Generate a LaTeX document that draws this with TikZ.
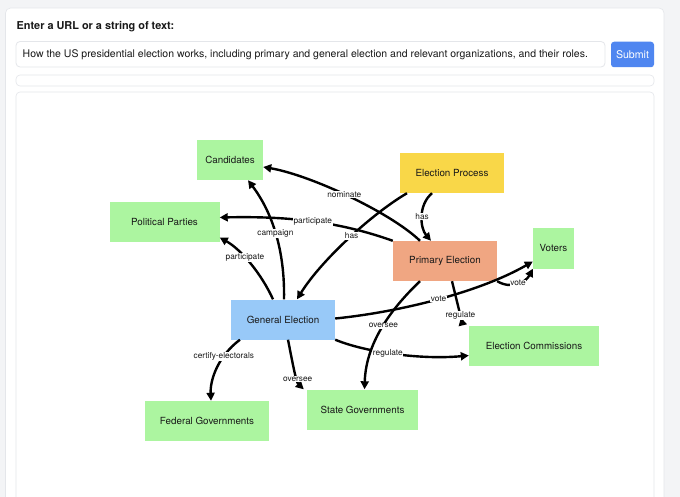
\documentclass[tikz,border=0pt]{standalone}
\usepackage{fontspec}
\setmainfont{TeX Gyre Heros}
\usepackage{tikz}
\usetikzlibrary{arrows.meta,positioning}

\definecolor{pagebg}{RGB}{243,244,246}
\definecolor{cardline}{RGB}{228,230,234}
\definecolor{submitblue}{RGB}{79,134,240}
\definecolor{conceptgreen}{RGB}{172,245,160}
\definecolor{processyellow}{RGB}{249,215,72}
\definecolor{primarysalmon}{RGB}{240,166,130}
\definecolor{generalblue}{RGB}{152,201,248}
\definecolor{inktext}{RGB}{25,25,25}

\tikzset{
  concept/.style={draw=none, fill=conceptgreen, minimum height=40pt, inner sep=0pt,
                  text=inktext, font=\fontsize{9.8}{11}\selectfont},
  rel/.style={line width=2.4pt, -{Triangle[length=8pt,width=8pt]}},
  lbl/.style={fill=white, inner sep=0.6pt, text=inktext, font=\fontsize{8.3}{9}\selectfont}
}

\begin{document}
\begin{tikzpicture}[x=1pt, y=-1pt]
\useasboundingbox (0,0) rectangle (680,497);
\fill[pagebg] (0,0) rectangle (680,497);

% page cards
\filldraw[fill=white, draw=cardline, line width=0.6pt, rounded corners=5pt] (5.5,8) rectangle (664,520);
\node[anchor=west, inner sep=0pt, text=inktext, font=\fontsize{10.9}{12}\selectfont\bfseries] (prompt) at (16.5,27) {Enter a URL or a string of text:};
\filldraw[fill=white, draw=cardline, line width=0.8pt, rounded corners=4pt] (16,41.5) rectangle (605,67);
\node[anchor=west, inner sep=0pt, text=inktext, font=\fontsize{10.5}{12}\selectfont] (query) at (22.5,55) {How the US presidential election works, including primary and general election and relevant organizations, and their roles.};
\node[fill=submitblue, rounded corners=3pt, minimum width=43pt, minimum height=25.5pt, inner sep=0pt,
      text=white, font=\fontsize{10.6}{12}\selectfont] (submit) at (632.5,54.5) {Submit};
\filldraw[fill=white, draw=cardline, line width=0.6pt, rounded corners=4pt] (16,75) rectangle (654,86);
\filldraw[fill=white, draw=cardline, line width=0.6pt, rounded corners=4pt] (16,92) rectangle (654,520);

% concepts
\node[concept, minimum width=66pt] (cand) at (230,160) {Candidates};
\node[concept, minimum width=110pt] (parties) at (164.5,222.5) {Political Parties};
\node[concept, fill=processyellow, minimum width=104pt] (process) at (452,173) {Election Process};
\node[concept, fill=primarysalmon, minimum width=104pt] (primary) at (445,261) {Primary Election};
\node[concept, minimum width=41pt] (voters) at (553.5,248.5) {Voters};
\node[concept, fill=generalblue, minimum width=104pt] (general) at (283,319.5) {General Election};
\node[concept, minimum width=130pt] (comm) at (534,345.5) {Election Commissions};
\node[concept, minimum width=124pt] (federal) at (207,421) {Federal Governments};
\node[concept, minimum width=111pt] (state) at (362.5,409.5) {State Governments};

% relations
\draw[rel] ([xshift=-25pt]primary.north) .. controls (390,212) and (310,175) .. ([yshift=-7pt]cand.east)
      node[lbl, pos=0.52] {nominate};
\draw[rel] (primary.north west) .. controls (340,222) and (290,216) .. ([yshift=5pt]parties.east)
      node[lbl, pos=0.5] {participate};
\draw[rel] ([xshift=-45pt]process.south) .. controls (370,215) and (320,262) .. ([xshift=14pt]general.north)
      node[lbl, pos=0.46] {has};
\draw[rel] ([xshift=-20pt]process.south) .. controls (418,205) and (420,228) .. ([xshift=-14pt]primary.north)
      node[lbl, pos=0.5] {has};
\draw[rel] ([xshift=1pt]general.north) .. controls (285,250) and (272,212) .. ([xshift=18pt]cand.south)
      node[lbl, pos=0.5] {campaign};
\draw[rel] ([xshift=-10pt]general.north) .. controls (262,275) and (242,250) .. ([yshift=-15pt]parties.east)
      node[lbl, pos=0.6] {participate};
\draw[rel] ([yshift=1pt]general.east) .. controls (400,312) and (480,292) .. ([yshift=-13pt]voters.west)
      node[lbl, pos=0.5] {vote};
\draw[rel] (primary.south east) .. controls (512,290) and (526,282) .. (voters.south west)
      node[lbl, pos=0.5] {vote};
\draw[rel, -{Triangle[length=8pt,width=8pt,reversed]}] ([xshift=7pt]primary.south) -- ([xshift=-6pt]comm.north west)
      node[lbl, pos=0.78] {regulate};
\draw[rel] (general.south east) .. controls (365,352) and (420,360) .. ([yshift=-10pt]comm.west)
      node[lbl, pos=0.45] {regulate};
\draw[rel] ([xshift=-25pt]primary.south) .. controls (395,305) and (366,340) .. ([xshift=2pt]state.north)
      node[lbl, pos=0.5] {oversee};
\draw[rel] ([xshift=5pt]general.south) .. controls (292,360) and (296,382) .. ([xshift=-3pt]state.north west)
      node[lbl, pos=0.7] {oversee};
\draw[rel] ([xshift=-43pt]general.south) .. controls (218,356) and (210,380) .. ([xshift=4pt]federal.north)
      node[lbl, pos=0.3] {certify-electorals};
\end{tikzpicture}
\end{document}
